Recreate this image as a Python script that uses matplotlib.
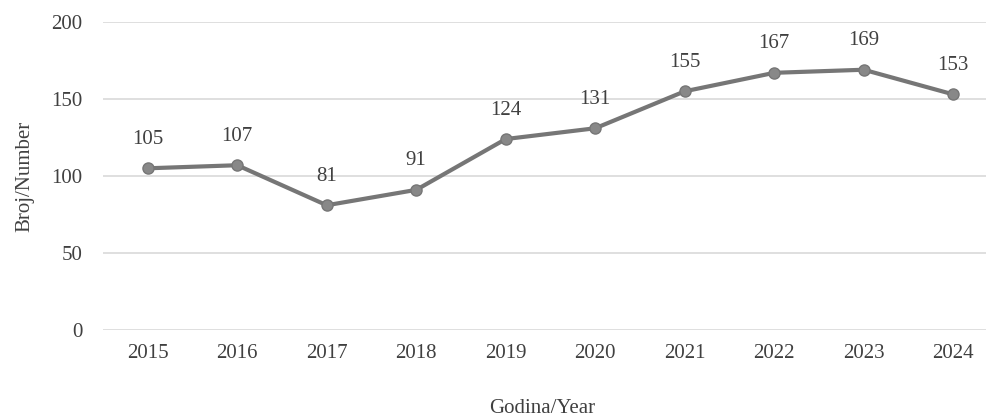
import matplotlib.pyplot as plt

years = ['2015', '2016', '2017', '2018', '2019', '2020', '2021', '2022', '2023', '2024']
counts = [105, 107, 81, 91, 124, 131, 155, 167, 169, 153]

plt.rcParams['font.family'] = ['Liberation Serif', 'DejaVu Serif']
fs = 15
txt_col = '#404040'

fig = plt.figure(figsize=(9.86, 4.19), dpi=100)
ax = fig.add_axes([103 / 986, 89 / 419, 895 / 986, 308 / 419])

x = list(range(len(years)))
ax.plot(x, counts, color='#767676', linewidth=3, marker='o', markersize=8,
        markerfacecolor='#888888', markeredgecolor='#767676', zorder=3)

# value labels above each point
for xi, v in zip(x, counts):
    ax.annotate(str(v), (xi, v), xytext=(0, 14), textcoords='offset points',
                ha='center', va='bottom', fontsize=fs, color=txt_col)

ax.set_xlim(-0.5, len(years) - 0.5)
ax.set_ylim(0, 200)
ax.set_yticks([0, 50, 100, 150, 200])
ax.set_xticks(x)
ax.set_xticklabels(years)
ax.grid(axis='y', color='#d9d9d9', linewidth=1.2)
ax.set_axisbelow(True)
for s in ax.spines.values():
    s.set_visible(False)
ax.tick_params(length=0, labelsize=fs, labelcolor=txt_col)
ax.tick_params(axis='y', pad=15)
ax.tick_params(axis='x', pad=10)

ax.set_ylabel('Broj/Number', fontsize=fs, color=txt_col, labelpad=12)
fig.text(542 / 986, 1 - 408 / 419, 'Godina/Year', ha='center', va='center',
         fontsize=fs, color=txt_col)

fig.savefig('out.png', dpi=100)
